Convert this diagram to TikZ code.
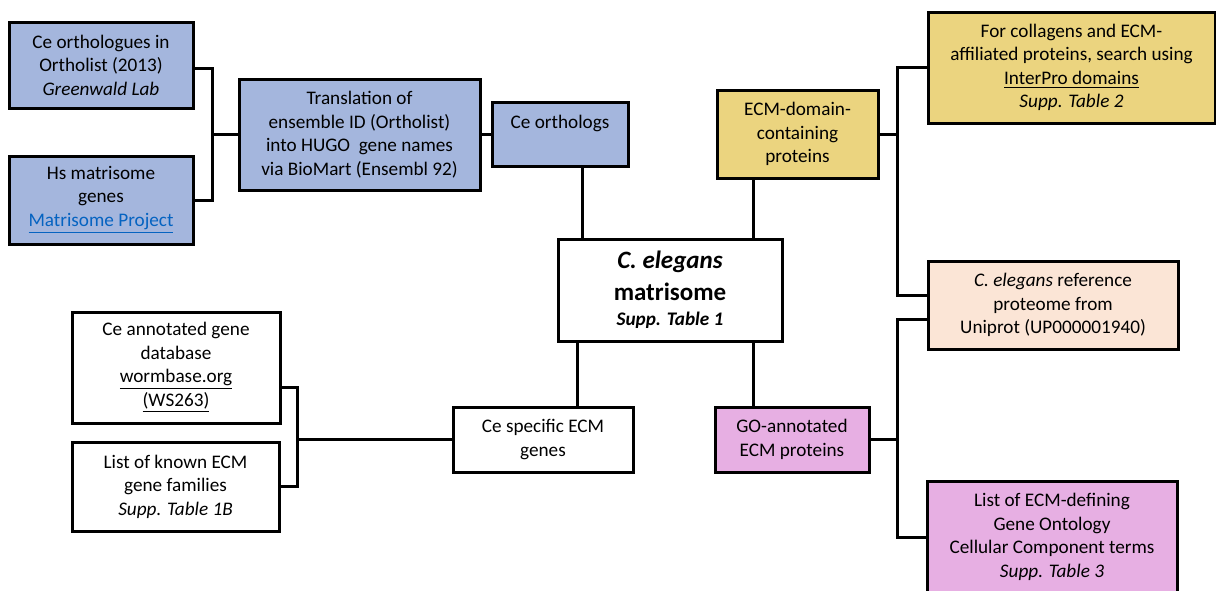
\documentclass[tikz,border=0pt]{standalone}
\usepackage{fontspec}
\setmainfont{Carlito}
\usepackage{tikz}

\definecolor{orthoblue}{HTML}{A4B6DD}
\definecolor{domyellow}{HTML}{EBD47F}
\definecolor{refpeach}{HTML}{FBE5D6}
\definecolor{gopink}{HTML}{E7AFE3}
\definecolor{linkblue}{HTML}{0563C1}

\begin{document}
\begin{tikzpicture}[x=0.5pt, y=-0.5pt,
    box/.style={draw, line width=1.5pt, align=center, inner sep=0pt,
      font=\fontsize{9.6}{11.75}\selectfont},
    link/.style={line width=1.5pt}]

            \useasboundingbox (0,0) rectangle (1216,590);
            \clip (0,0) rectangle (1216,590);

            % Nodes

            \node[box, fill=orthoblue, minimum width=92pt, minimum height=43pt] (ortholist) at (101,65) {Ce orthologues in\\Ortholist (2013)\\\textit{Greenwald Lab}};
            \node[box, fill=orthoblue, minimum width=92pt, minimum height=44pt] (hsmat) at (101,200) {Hs matrisome\\genes\\\textcolor{linkblue}{\underline{Matrisome Project}}};
            \node[box, fill=orthoblue, minimum width=120.5pt, minimum height=55.5pt] (transl) at (359.5,134.5) {Translation of\\ensemble ID (Ortholist)\\into HUGO\ \ gene names\\via BioMart (Ensembl 92)};
            \node[box, fill=orthoblue, minimum width=68pt, minimum height=32pt] (ceorth) at (560,134) {Ce orthologs\\\mbox{}};
            \node[box, fill=white, minimum width=112pt, minimum height=51pt,
              font=\fontsize{12.5}{16}\selectfont] (matri) at (670,290) {\textbf{\textit{C. elegans}}\\\textbf{matrisome}\\[-3.5pt]{\fontsize{9.6}{11.75}\selectfont\bfseries\itshape Supp. Table 1}};
            \node[box, fill=domyellow, minimum width=80.5pt, minimum height=44pt] (ecmdom) at (797.5,134) {ECM-domain-\\containing\\proteins};
            \node[box, fill=domyellow, minimum width=143.5pt, minimum height=55.5pt] (interpro) at (1071.5,67.5) {For collagens and ECM-\\affiliated proteins, search using\\\underline{InterPro domains}\\\textit{Supp. Table 2}};
            \node[box, fill=refpeach, minimum width=125pt, minimum height=44pt] (uniprot) at (1053,305) {\textit{C. elegans} reference\\proteome from\\Uniprot (UP000001940)};
            \node[box, fill=gopink, minimum width=77pt, minimum height=32.5pt] (goann) at (792,439.5) {GO-annotated\\ECM proteins};
            \node[box, fill=gopink, minimum width=125pt, minimum height=56pt] (goterms) at (1052,537) {List of ECM-defining\\Gene Ontology\\Cellular Component terms\\\textit{Supp. Table 3}};
            \node[box, fill=white, minimum width=90pt, minimum height=32.5pt] (cespec) at (543,439.5) {Ce specific ECM\\genes};
            \node[box, fill=white, minimum width=104pt, minimum height=55.5pt] (wormbase) at (176,367.5) {Ce annotated gene\\database\\\underline{wormbase.org}\\\underline{(WS263)}};
            \node[box, fill=white, minimum width=103.5pt, minimum height=44.5pt] (ecmfam) at (175.5,486.5) {List of known ECM\\gene families\\\textit{Supp. Table 1B}};

            % Junctions

            \coordinate (jortho) at (212,134.5);
            \coordinate (jdom) at (897,134);
            \coordinate (jgo) at (897,439.5);
            \coordinate (jce) at (297,439.5);
            \path (matri.north west) ++(26,0) coordinate (mtl);
            \path (matri.north east) ++(-30,0) coordinate (mtr);
            \path (matri.south west) ++(21,0) coordinate (mbl);
            \path (matri.south east) ++(-30,0) coordinate (mbr);

            % Edges

            \draw[link] ([yshift=-1.5pt]ortholist.east) -| (jortho) |- (hsmat.east);
            \draw[link] (jortho) -- (transl.west);
            \draw[link] (transl.east) -- (ceorth.west |- transl.east);
            \draw[link] (mtl) -- (mtl |- ceorth.south);
            \draw[link] (mtr) -- (mtr |- ecmdom.south);
            \draw[link] (ecmdom.east) -- (jdom);
            \draw[link] (interpro.west) -| (jdom) |- ([yshift=5pt]uniprot.west);
            \draw[link] (mbr) -- (mbr |- goann.north);
            \draw[link] (goann.east) -- (jgo);
            \draw[link] ([yshift=-7pt]uniprot.west) -| (jgo) |- (goterms.west);
            \draw[link] (mbl) -- (mbl |- cespec.north);
            \draw[link] (cespec.west) -- (jce);
            \draw[link] ([yshift=-10pt]wormbase.east) -| (jce) |- (ecmfam.east);

\end{tikzpicture}
\end{document}
